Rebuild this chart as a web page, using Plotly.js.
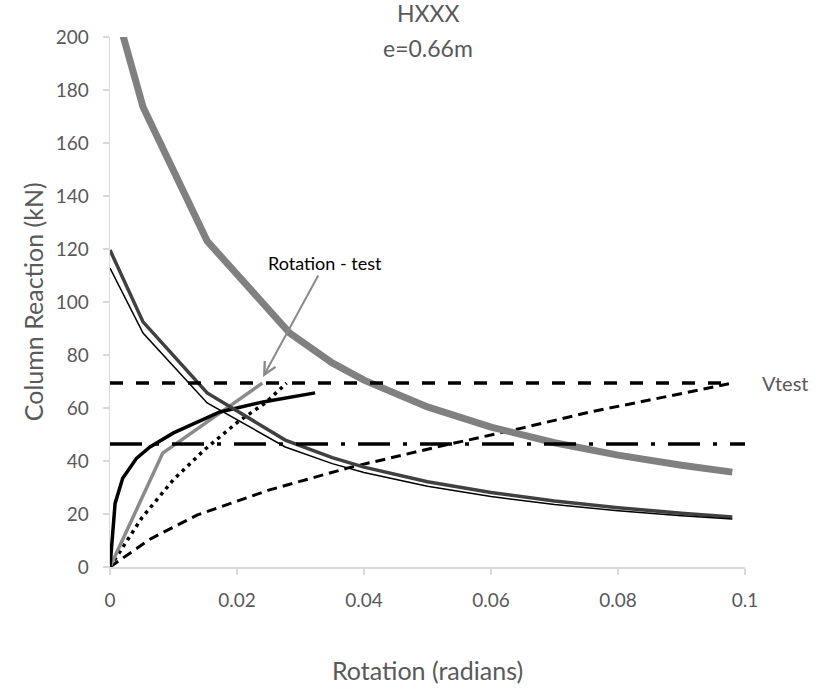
<!DOCTYPE html>
<html>
<head>
<meta charset="utf-8">
<script src="https://cdn.plot.ly/plotly-3.0.1.min.js"></script>
<style>
  html, body { margin: 0; padding: 0; background: #fff; }
  #chart { width: 821px; height: 691px; }
</style>
</head>
<body>
<div id="chart"></div>
<script>
// Rotation (radians) vs column reaction (kN)

// Thick grey demand curve
const demandRot = [0, 0.0052, 0.0153, 0.0283, 0.035, 0.04, 0.05, 0.06, 0.07, 0.08, 0.09, 0.098];
const demandKN  = [218, 173.6, 123.0, 88.3, 77.0, 70.5, 60.4, 52.8, 46.9, 42.2, 38.4, 35.8];

// Dark grey curve
const upperRot = [0, 0.0052, 0.0153, 0.0276, 0.035, 0.04, 0.05, 0.06, 0.07, 0.08, 0.09, 0.098];
const upperKN  = [119.6, 92.5, 65.7, 47.9, 41.3, 37.7, 32.2, 28.1, 24.9, 22.4, 20.3, 18.9];

// Thin black curve
const lowerRot = [0, 0.0052, 0.0153, 0.0276, 0.035, 0.04, 0.05, 0.06, 0.07, 0.08, 0.09, 0.098];
const lowerKN  = [112.8, 88.3, 61.9, 45.3, 39.0, 35.7, 30.5, 26.6, 23.6, 21.2, 19.3, 18.1];

// Thick black rising curve
const stiffRot = [0, 0.0004, 0.0008, 0.002, 0.0042, 0.0063, 0.01, 0.0173, 0.0241, 0.0323];
const stiffKN  = [0, 12, 24, 33.5, 41.1, 45.3, 50.6, 58.5, 62.3, 65.7];

// Grey test line
const testRot = [0, 0.0083, 0.024];
const testKN  = [0, 43.0, 69.4];

// Dotted line
const dotRot = [0, 0.005, 0.01, 0.015, 0.02, 0.0245, 0.0278];
const dotKN  = [0, 18.5, 33.0, 44.5, 54.5, 62.0, 69.4];

// Dashed rising curve
const softRot = [0, 0.0063, 0.0137, 0.025, 0.0375, 0.0515, 0.065, 0.0756, 0.087, 0.098];
const softKN  = [0, 10.5, 19.6, 29.0, 37.4, 45.3, 52.5, 58.5, 64.0, 69.4];

// Horizontal reference levels
const vtestRot = [0, 0.098];
const vtestKN  = [69.4, 69.4];
const limitRot = [0, 0.1];
const limitKN  = [46.4, 46.4];

const xTicks = [0, 0.02, 0.04, 0.06, 0.08, 0.1];
const xTickText = ['0', '0.02', '0.04', '0.06', '0.08', '0.1'];
const yTicks = [0, 20, 40, 60, 80, 100, 120, 140, 160, 180, 200];

const FONT = 'Lato, "Open Sans", sans-serif';
const GREY_TEXT = '#595959';

function line(x, y, color, width, dash) {
  return {
    x: x, y: y, type: 'scatter', mode: 'lines', hoverinfo: 'skip',
    line: { color: color, width: width, dash: dash || 'solid' }
  };
}

const traces = [
  line(softRot, softKN, '#000000', 3, '10px,6px'),
  line(dotRot, dotKN, '#000000', 3.5, '3.5px,4.5px'),
  line(testRot, testKN, '#8a8a8a', 3.5),
  line(stiffRot, stiffKN, '#000000', 3.5),
  line(upperRot, upperKN, '#404040', 3.5),
  line(lowerRot, lowerKN, '#000000', 1.5),
  line(demandRot, demandKN, '#808080', 7),
  line(limitRot, limitKN, '#000000', 3.5, '32px,13px,4px,13px'),
  line(vtestRot, vtestKN, '#000000', 3.5, '13px,13px')
];

const layout = {
  width: 821, height: 691,
  margin: { l: 110, r: 76, t: 37, b: 124 },
  paper_bgcolor: '#ffffff', plot_bgcolor: '#ffffff',
  showlegend: false,
  font: { family: FONT, color: GREY_TEXT },
  xaxis: {
    range: [0, 0.1], tickvals: xTicks, ticktext: xTickText,
    showgrid: false, zeroline: false,
    showline: true, linecolor: '#d9d9d9', linewidth: 1.5,
    ticks: 'outside', ticklen: 6, tickcolor: '#d9d9d9', tickwidth: 1.5,
    ticklabelstandoff: 10,
    tickfont: { family: FONT, size: 19, color: GREY_TEXT }
  },
  yaxis: {
    range: [0, 200], tickvals: yTicks,
    showgrid: false, zeroline: false,
    showline: true, linecolor: '#d9d9d9', linewidth: 1.5,
    ticks: 'outside', ticklen: 6, tickcolor: '#d9d9d9', tickwidth: 1.5,
    ticklabelstandoff: 10,
    tickfont: { family: FONT, size: 19, color: GREY_TEXT }
  },
  annotations: [
    { text: 'HXXX', xref: 'paper', yref: 'paper', x: 0.5, y: 1.045,
      xanchor: 'center', yanchor: 'middle', showarrow: false,
      font: { family: FONT, size: 23, color: GREY_TEXT } },
    { text: 'e=0.66m', xref: 'paper', yref: 'paper', x: 0.5, y: 0.979,
      xanchor: 'center', yanchor: 'middle', showarrow: false,
      font: { family: FONT, size: 23, color: GREY_TEXT } },
    { text: 'Rotation (radians)', xref: 'paper', yref: 'paper', x: 0.5, y: -0.195,
      xanchor: 'center', yanchor: 'middle', showarrow: false,
      font: { family: FONT, size: 25, color: GREY_TEXT } },
    { text: 'Column Reaction (kN)', xref: 'paper', yref: 'paper', x: -0.121, y: 0.5,
      xanchor: 'center', yanchor: 'middle', showarrow: false, textangle: -90,
      font: { family: FONT, size: 25, color: GREY_TEXT } },
    { text: 'Vtest', xref: 'paper', yref: 'y', x: 1.024, y: vtestKN[0],
      xanchor: 'left', yanchor: 'middle', showarrow: false,
      font: { family: FONT, size: 20, color: GREY_TEXT } },
    { text: 'Rotation - test', xref: 'x', yref: 'y', x: 0.0241, y: 71.7,
      ax: 62, ay: -114, axref: 'pixel', ayref: 'pixel',
      showarrow: true, arrowhead: 5, arrowsize: 1.2, arrowwidth: 2, arrowcolor: '#8a8a8a',
      font: { family: FONT, size: 18, color: '#000000' } }
  ]
};

Plotly.newPlot('chart', traces, layout, { staticPlot: true, displayModeBar: false });
</script>
</body>
</html>
